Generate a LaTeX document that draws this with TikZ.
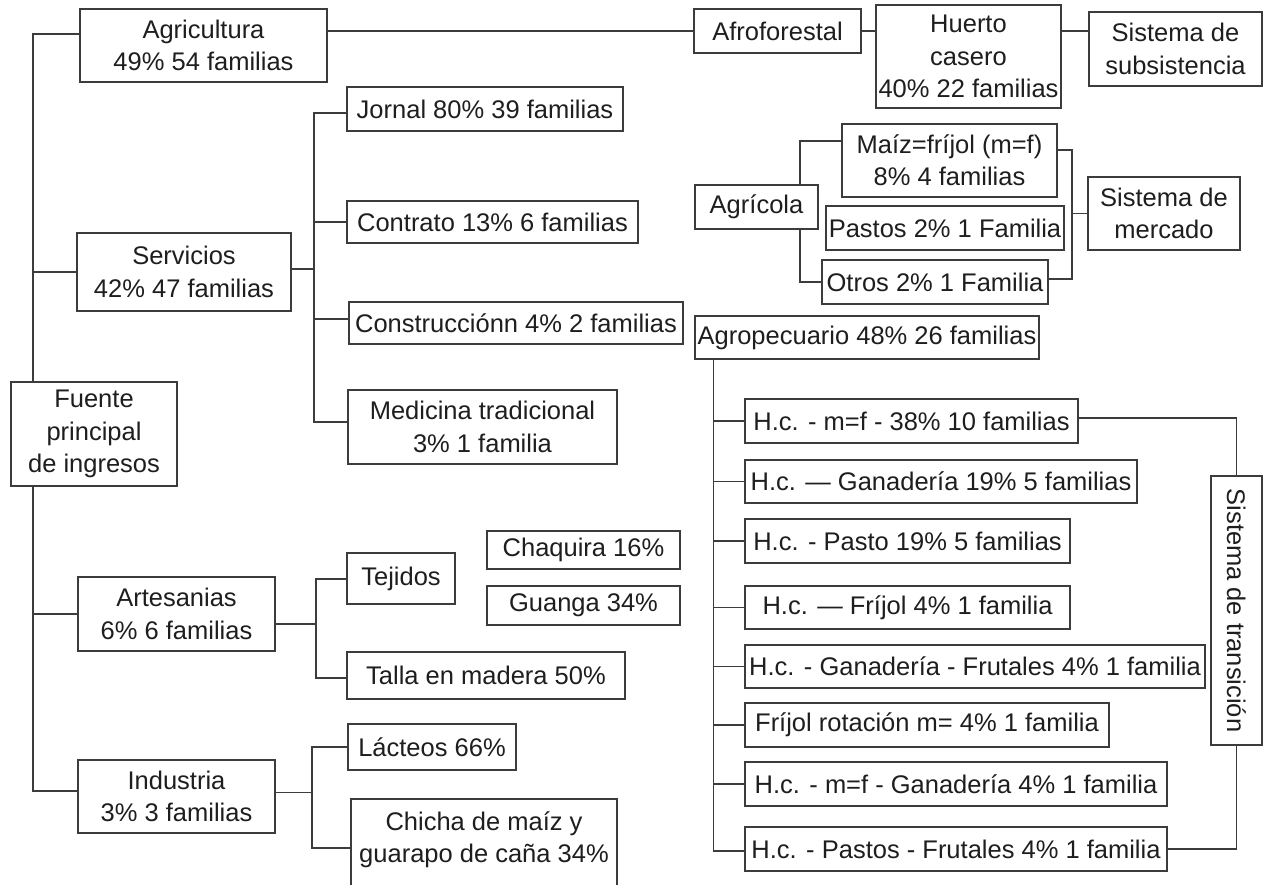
\documentclass[tikz,border=0pt]{standalone}
\usepackage{fontspec}
\usepackage{graphicx}
\setmainfont{Liberation Sans}
\usetikzlibrary{backgrounds,calc}
\definecolor{lnc}{RGB}{60,60,60}
\definecolor{txc}{RGB}{30,30,30}
\newcommand{\mybox}[6]{\node[box, minimum width={(#4-#2)*1pt}, minimum height={(#5-#3)*1pt}] (#1) at ({(#2+#4)/2},{(#3+#5)/2}) {#6};}
\begin{document}
\begin{tikzpicture}[x=1pt,y=-1pt,
  box/.style={draw=lnc, line width=1.2pt, fill=white, inner sep=0pt, align=center, text=txc, font=\fontsize{25.5}{32.3}\selectfont},
  txt/.style={inner sep=0pt, align=center, text=txc, font=\fontsize{25.5}{32.3}\selectfont},
  conn/.style={draw=lnc, line width=1.2pt}]
\useasboundingbox (0,0) rectangle (1264,885);
% left column
\mybox{agri}{80}{9}{327}{82}{Agricultura\\49\% 54 familias}
\mybox{serv}{77}{233}{291}{311}{Servicios\\42\% 47 familias}
\mybox{fuente}{11}{382}{177}{486}{Fuente\\principal\\de ingresos}
\mybox{art}{78}{577}{275}{651}{Artesanias\\6\% 6 familias}
\mybox{ind}{78}{760}{275}{833}{Industria\\3\% 3 familias}
% middle column
\mybox{jornal}{347}{87}{623}{131}{Jornal 80\% 39 familias}
\mybox{contr}{347}{201}{638}{243}{Contrato 13\% 6 familias}
\mybox{constr}{349}{302}{683}{344}{Construcciónn 4\% 2 familias}
\mybox{medic}{348}{390}{617}{464}{Medicina tradicional\\3\% 1 familia}
\mybox{tej}{347}{553}{455}{604}{Tejidos}
\mybox{chaq}{487}{531}{680}{569}{Chaquira 16\%}
\mybox{guanga}{487}{586}{680}{625}{Guanga 34\%}
\mybox{talla}{347}{652}{625}{699}{Talla en madera 50\%}
\mybox{lact}{348}{724}{516}{770}{Lácteos 66\%}
\mybox{chicha}{351}{799}{617}{897}{}
\node[txt] (chichatxt) at (484,840) {Chicha de maíz y\\guarapo de caña 34\%};
% right column
\mybox{afro}{694}{9}{861}{53}{Afroforestal}
\mybox{huerto}{876}{5}{1061}{108}{Huerto\\casero\\40\% 22 familias}
\mybox{subs}{1089}{12}{1262}{86}{Sistema de\\subsistencia}
\mybox{agricola}{695}{185}{818}{229}{Agrícola}
\mybox{maiz}{842}{124}{1057}{197}{Maíz=fríjol (m=f)\\8\% 4 familias}
\mybox{pastos}{826}{206}{1064}{250}{Pastos 2\% 1 Familia}
\mybox{otros}{822}{260}{1048}{304}{Otros 2\% 1 Familia}
\mybox{merc}{1088}{177}{1240}{250}{Sistema de\\mercado}
\mybox{agrop}{695}{316}{1039}{359}{Agropecuario 48\% 26 familias}
\mybox{hc1}{745}{399}{1078}{443}{H.c. - m=f - 38\% 10 familias}
\mybox{hc2}{745}{460}{1137}{503}{H.c. — Ganadería 19\% 5 familias}
\mybox{hc3}{745}{519}{1070}{563}{H.c. - Pasto 19\% 5 familias}
\mybox{hc4}{745}{586}{1070}{629}{H.c. — Fríjol 4\% 1 familia}
\mybox{hc5}{745}{645}{1205}{688}{H.c. - Ganadería - Frutales 4\% 1 familia}
\mybox{hc6}{745}{703}{1109}{747}{Fríjol rotación m= 4\% 1 familia}
\mybox{hc7}{745}{762}{1167}{806}{H.c. - m=f - Ganadería 4\% 1 familia}
\mybox{hc8}{745}{827}{1167}{871}{H.c. - Pastos - Frutales 4\% 1 familia}
\mybox{trans}{1211}{476}{1262}{745}{\rotatebox{-90}{Sistema de transición}}
\begin{scope}[on background layer]
% trunk
\coordinate (tA) at (33,34);
\coordinate (tI) at (33,791);
\draw[conn] (agri.west |- tA) -- (tA) -- (tI) -- (ind.west |- tI);
\draw[conn] (serv.west) -- (serv.west -| tA);
\draw[conn] (art.west) -- (art.west -| tA);
% top row
\draw[conn] (afro.west) -- (afro.west -| agri.east);
\draw[conn] (afro.east) -- (afro.east -| huerto.west);
\draw[conn] (huerto.east |- afro.east) -- (subs.west |- afro.east);
% servicios
\coordinate (sJ) at (314,113);
\coordinate (sM) at (314,422);
\draw[conn] (jornal.west |- sJ) -- (sJ) -- (sM) -- (medic.west |- sM);
\draw[conn] ([yshift=3pt]serv.east) -- ([yshift=3pt]serv.east -| sJ);
\draw[conn] (contr.west) -- (contr.west -| sJ);
\draw[conn] ([yshift=4pt]constr.west) -- ([yshift=4pt]constr.west -| sJ);
% artesanias
\coordinate (aT) at (316,579);
\coordinate (aL) at (316,678);
\draw[conn] (tej.west |- aT) -- (aT) -- (aL) -- (talla.west |- aL);
\draw[conn] ([yshift=-10pt]art.east) -- ([yshift=-10pt]art.east -| aT);
% industria
\coordinate (iL) at (312,747);
\coordinate (iC) at (312,848);
\draw[conn] (lact.west) -- (iL) -- (iC) -- (chicha.west |- iC);
\draw[conn] ([yshift=4pt]ind.east) -- ([yshift=4pt]ind.east -| iL);
% agricola
\coordinate (gM) at (800,141);
\coordinate (gO) at (800,282);
\draw[conn] (maiz.west |- gM) -- (gM) -- (gO) -- (otros.west);
% mercado
\coordinate (mM) at (1072,150);
\coordinate (mO) at (1072,279);
\draw[conn] (maiz.east |- mM) -- (mM) -- (mO) -- (otros.east |- mO);
\draw[conn] (merc.west) -- (merc.west -| mM);
% agropecuario
\coordinate (pB) at (713.5,851);
\draw[conn] (agrop.south -| pB) -- (pB) -- (hc8.west |- pB);
\foreach \n in {hc1,hc2,hc3,hc4,hc5,hc6,hc7}{
  \draw[conn] (\n.west) -- (\n.west -| pB);
}
% transicion
\draw[conn] ([yshift=3pt]hc1.east) -| (trans.north);
\draw[conn] (hc8.east) -| (trans.south);
\end{scope}
\end{tikzpicture}
\end{document}
